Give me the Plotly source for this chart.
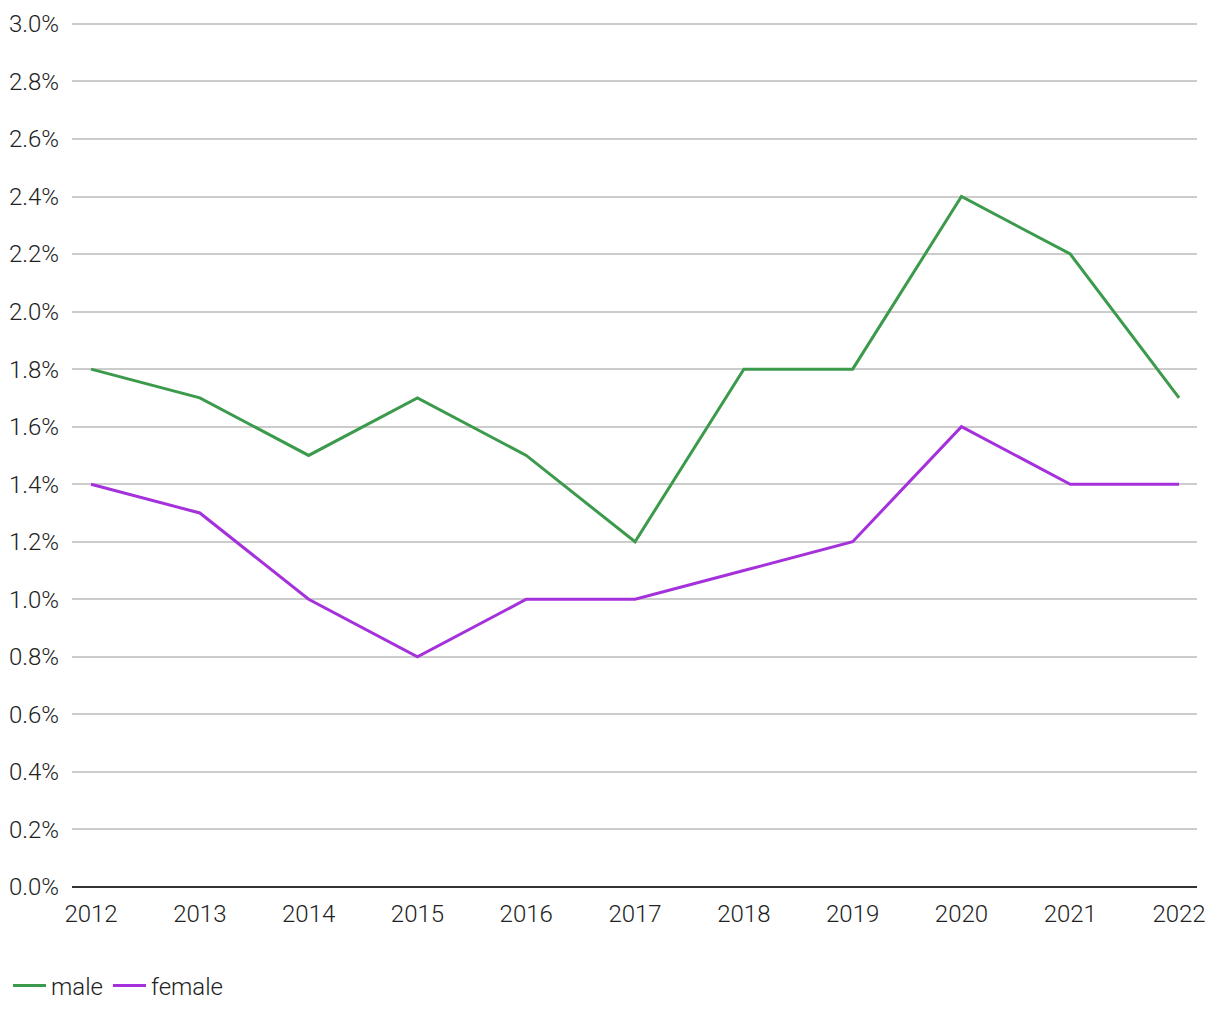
import plotly.graph_objects as go

years = [2012, 2013, 2014, 2015, 2016, 2017, 2018, 2019, 2020, 2021, 2022]
male = [1.8, 1.7, 1.5, 1.7, 1.5, 1.2, 1.8, 1.8, 2.4, 2.2, 1.7]
female = [1.4, 1.3, 1.0, 0.8, 1.0, 1.0, 1.1, 1.2, 1.6, 1.4, 1.4]
y_ticks = [i * 0.2 for i in range(16)]

GREEN = "#3b9a4b"
PURPLE = "#a431db"

fig = go.Figure()
fig.add_trace(go.Scatter(x=years, y=[v / 100 for v in male], mode="lines", name="male",
                         line=dict(color=GREEN, width=3)))
fig.add_trace(go.Scatter(x=years, y=[v / 100 for v in female], mode="lines", name="female",
                         line=dict(color=PURPLE, width=3)))

font = dict(family="Roboto", size=24, color="#222222", weight=300)

fig.update_layout(
    width=1220, height=1020,
    margin=dict(l=64, r=31, t=13, b=141),
    paper_bgcolor="white", plot_bgcolor="white",
    font=font,
    showlegend=True,
    legend=dict(orientation="h", xref="container", yref="container",
                x=-0.0016, xanchor="left", y=0.0412, yanchor="middle",
                font=font, traceorder="normal", itemwidth=33),
    xaxis=dict(range=[2011.825, 2022.165], tickmode="array", tickvals=years,
               ticktext=[str(y) for y in years], showgrid=False, zeroline=False,
               showline=False, ticks="", tickfont=font, automargin=False,
               ticklabelstandoff=10),
    yaxis=dict(range=[0, 0.0301], tickmode="array", tickvals=[t / 100 for t in y_ticks],
               ticktext=[f"{t:.1f}%" for t in y_ticks], showgrid=True, gridcolor="#cccccc",
               gridwidth=1.5, zeroline=True, zerolinecolor="#333333", zerolinewidth=2,
               showline=False, ticks="", ticklabelstandoff=12, tickfont=font,
               automargin=False),
)

fig.write_html("out.html")
